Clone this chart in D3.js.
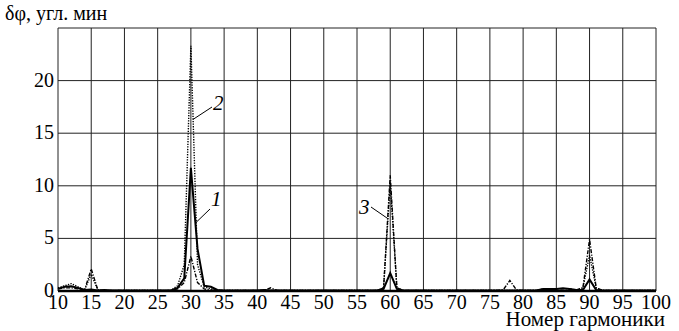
<!DOCTYPE html>
<html><head><meta charset="utf-8">
<script src="https://cdn.jsdelivr.net/npm/d3@7"></script>
<style>body{margin:0;background:#fff}svg{display:block}</style>
</head><body><svg id="c" width="679" height="331" font-family="'Liberation Serif','Times New Roman','DejaVu Serif',serif"></svg>
<script>
const harmonics = d3.range(10, 101);
const xTicks = d3.range(10, 101, 5);
const yTicks = [0, 5, 10, 15, 20];
// series 1 (solid), one row per decade of harmonics: 10-19, 20-29, ... 90-99, then 100
const series1 = [
0.2,0.4,0.45,0.3,0.1,0.15,0.05,0.1,0.05,0.05,
0.05,0.05,0.05,0.05,0.05,0.05,0.05,0.05,0.3,1.2,
11.7,4.0,0.5,0.4,0.1,0.05,0.05,0.05,0.05,0.05,
0.05,0.1,0.05,0.05,0.05,0.05,0.05,0.05,0.05,0.05,
0.05,0.05,0.05,0.05,0.05,0.05,0.05,0.05,0.05,0.2,
1.7,0.2,0.05,0.05,0.05,0.05,0.05,0.05,0.05,0.05,
0.05,0.05,0.05,0.05,0.05,0.05,0.05,0.05,0.05,0.05,
0.05,0.05,0.05,0.2,0.2,0.2,0.25,0.2,0.1,0.1,
1.1,0.1,0.05,0.05,0.05,0.05,0.05,0.05,0.05,0.05,
0.05];
// series 2 (dotted)
const series2 = [
0.3,0.5,0.7,0.4,0.1,1.6,0.1,0.05,0.05,0.05,
0.05,0.05,0.05,0.05,0.05,0.05,0.05,0.05,0.5,2.5,
23.3,2.5,0.4,0.2,0.05,0.05,0.05,0.05,0.05,0.05,
0.05,0.05,0.05,0.05,0.05,0.05,0.05,0.05,0.05,0.05,
0.05,0.05,0.05,0.05,0.05,0.05,0.05,0.05,0.05,0.3,
10.3,0.3,0.05,0.05,0.05,0.05,0.05,0.05,0.05,0.05,
0.05,0.05,0.05,0.05,0.05,0.05,0.05,0.05,0.05,0.05,
0.05,0.05,0.05,0.05,0.05,0.05,0.05,0.05,0.05,0.3,
3.4,0.3,0.05,0.05,0.05,0.05,0.05,0.05,0.05,0.05,
0.05];
// series 3 (dash-dot)
const series3 = [
0.2,0.3,0.3,0.2,0.1,2.1,0.1,0.05,0.05,0.05,
0.05,0.05,0.05,0.05,0.05,0.05,0.05,0.05,0.2,0.8,
3.3,0.8,0.2,0.1,0.05,0.05,0.05,0.05,0.05,0.05,
0.05,0.05,0.3,0.05,0.05,0.05,0.05,0.05,0.05,0.05,
0.05,0.05,0.05,0.05,0.05,0.05,0.05,0.05,0.05,0.3,
11.0,0.3,0.05,0.05,0.05,0.05,0.05,0.05,0.05,0.05,
0.05,0.05,0.05,0.05,0.05,0.05,0.05,0.1,1.0,0.1,
0.05,0.05,0.05,0.2,0.2,0.2,0.2,0.2,0.1,0.3,
4.9,0.3,0.05,0.05,0.05,0.05,0.05,0.05,0.05,0.05,
0.05];

const svg = d3.select("#c");
const x = d3.scaleLinear().domain([10, 100]).range([58, 656]);
const y = d3.scaleLinear().domain([0, 25]).range([291, 28]);

// grid
svg.append("g").selectAll("line").data(xTicks).join("line")
  .attr("x1", d => x(d)).attr("x2", d => x(d)).attr("y1", y(25)).attr("y2", y(0))
  .attr("stroke", "#222").attr("stroke-width", 1);
svg.append("g").selectAll("line").data([5,10,15,20,25]).join("line")
  .attr("x1", x(10)).attr("x2", x(100)).attr("y1", d => y(d)).attr("y2", d => y(d))
  .attr("stroke", "#222").attr("stroke-width", 1);

const line = d3.line().x((d, i) => x(harmonics[i])).y(d => y(d));
svg.append("path").attr("d", line(series3)).attr("fill", "none").attr("stroke", "#000")
  .attr("stroke-width", 1.4).attr("stroke-dasharray", "4,1.5,1.2,1.5");
svg.append("path").attr("d", line(series2)).attr("fill", "none").attr("stroke", "#000")
  .attr("stroke-width", 1.4).attr("stroke-dasharray", "1.3,1.3");
svg.append("path").attr("d", line(series1)).attr("fill", "none").attr("stroke", "#000")
  .attr("stroke-width", 2);

// axis line
svg.append("line").attr("x1", x(10)).attr("x2", x(100)).attr("y1", y(0)).attr("y2", y(0))
  .attr("stroke", "#000").attr("stroke-width", 2.5);

// x tick labels
svg.append("g").selectAll("text").data(xTicks).join("text")
  .attr("x", d => x(d)).attr("y", 309).attr("text-anchor", "middle")
  .attr("font-size", 20).text(d => d);
// y tick labels
svg.append("g").selectAll("text").data(yTicks).join("text")
  .attr("x", 54).attr("y", d => y(d) + 6).attr("text-anchor", "end")
  .attr("font-size", 20).text(d => d);

svg.append("text").attr("x", 5).attr("y", 20).attr("font-size", 20).text("δφ, угл. мин");
svg.append("text").attr("x", 665).attr("y", 326).attr("text-anchor", "end").attr("font-size", 21).text("Номер гармоники");

// curve labels
const labels = [
  {t: "2", tx: 213, ty: 110, x1: 212, y1: 107, h: 30.3, v: 16.3},
  {t: "1", tx: 211, ty: 206, x1: 210, y1: 209, h: 30.75, v: 6.5},
  {t: "3", tx: 359, ty: 214, x1: 371, y1: 207, h: 59.6, v: 6.9}
];
labels.forEach(l => {
  svg.append("line").attr("x1", l.x1).attr("y1", l.y1).attr("x2", x(l.h)).attr("y2", y(l.v))
    .attr("stroke", "#000").attr("stroke-width", 1);
  svg.append("text").attr("x", l.tx).attr("y", l.ty).attr("font-size", 21)
    .attr("font-style", "italic").text(l.t);
});
</script>
</body></html>
